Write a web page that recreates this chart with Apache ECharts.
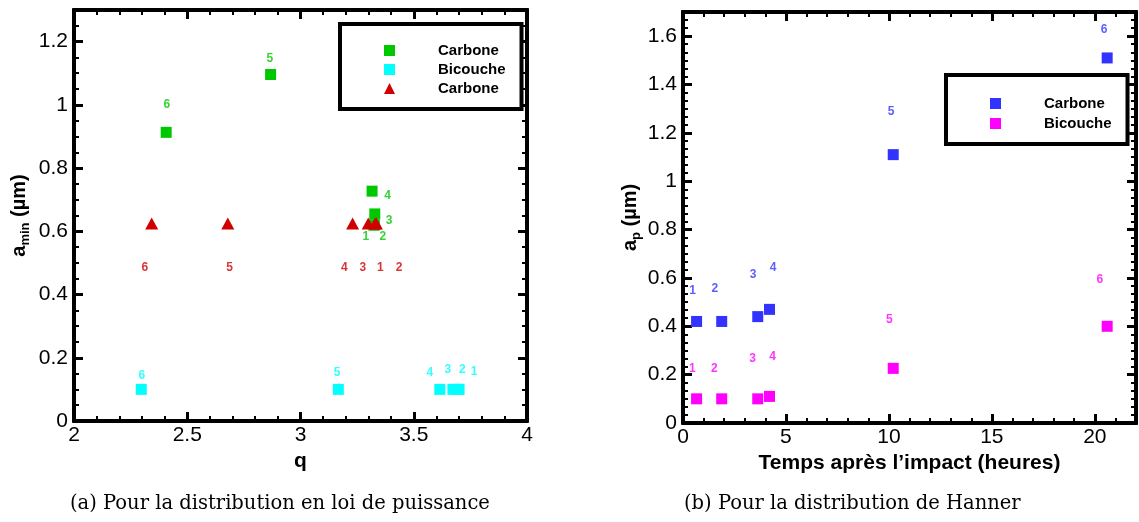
<!DOCTYPE html>
<html><head><meta charset="utf-8">
<script src="https://cdn.jsdelivr.net/npm/echarts@6/dist/echarts.min.js"></script>
<style>html,body{margin:0;padding:0;background:#fff}#c{width:1139px;height:522px}</style>
</head><body><div id="c"></div>
<script>
// ---------- (a) distribution en loi de puissance ----------
const pointIds = ['1', '2', '3', '4', '5', '6'];
const qCarbone = [3.325, 3.325, 3.328, 3.316, 2.868, 2.407];
const aminCarbone = [0.62, 0.62, 0.655, 0.727, 1.096, 0.913];
const qCarboneLbl = [3.289, 3.363, 3.391, 3.385, 2.865, 2.41];
const aminCarboneLbl = [0.583, 0.583, 0.633, 0.712, 1.145, 1.001];

const qBicouche = [3.70, 3.697, 3.673, 3.615, 3.167, 2.297];
const aminBicouche = [0.1, 0.1, 0.1, 0.1, 0.1, 0.1];
const qBicoucheLbl = [3.766, 3.714, 3.651, 3.571, 3.162, 2.30];
const aminBicoucheLbl = [0.155, 0.162, 0.162, 0.152, 0.152, 0.142];

const qCarbone2 = [3.329, 3.335, 3.299, 3.230, 2.679, 2.343];
const aminCarbone2 = [0.625, 0.625, 0.625, 0.625, 0.625, 0.625];
const qCarbone2Lbl = [3.353, 3.435, 3.275, 3.194, 2.687, 2.313];
const aminCarbone2Lbl = [0.485, 0.485, 0.485, 0.485, 0.485, 0.485];

// ---------- (b) distribution de Hanner ----------
const tHeures = [0.66, 1.88, 3.63, 4.2, 10.21, 20.6];
const apCarbone = [0.42, 0.42, 0.44, 0.47, 1.11, 1.51];
const tCarboneLbl = [0.47, 1.55, 3.4, 4.38, 10.1, 20.45];
const apCarboneLbl = [0.547, 0.557, 0.614, 0.644, 1.287, 1.625];
const apBicouche = [0.1, 0.1, 0.1, 0.11, 0.226, 0.40];
const tBicoucheLbl = [0.45, 1.52, 3.38, 4.35, 10.02, 20.24];
const apBicoucheLbl = [0.226, 0.226, 0.268, 0.276, 0.429, 0.594];

// tick labels
const xTicksA = [2, 2.5, 3, 3.5, 4];
const yTicksA = [0, 0.2, 0.4, 0.6, 0.8, 1, 1.2];
const xTicksB = [0, 5, 10, 15, 20];
const yTicksB = [0, 0.2, 0.4, 0.6, 0.8, 1, 1.2, 1.4, 1.6];

const captionA = '(a) Pour la distribution en loi de puissance';
const captionB = '(b) Pour la distribution de Hanner';

const C_GREEN = '#00c800', C_CYAN = '#00ffff', C_RED = '#d00000', C_BLUE = '#3333ff', C_MAG = '#ff00ff';
const SANS = '"Liberation Sans", Arial, Helvetica, sans-serif';

function zip(xs, ys) { return xs.map((x, i) => [x, ys[i]]); }
function zipLbl(xs, ys) { return xs.map((x, i) => [x, ys[i], pointIds[i]]); }

function axis(o) {
  const major = o.major;
  return {
    type: 'value', gridIndex: o.grid, position: o.position,
    min: o.min, max: o.max, interval: o.interval,
    axisLine: { show: true, onZero: false, lineStyle: { color: '#000', width: 4 } },
    axisTick: { show: true, inside: true, length: major ? 9 : 5, lineStyle: { color: '#000', width: major ? 3 : 2 } },
    axisLabel: o.labels ? {
      show: true, color: '#000', fontSize: 21, fontFamily: SANS, margin: o.margin,
      customValues: o.labels, showMaxLabel: true, showMinLabel: true
    } : { show: false },
    splitLine: { show: false },
    minorTick: { show: false },
    name: o.name || '', nameLocation: 'middle', nameGap: o.nameGap || 0,
    nameRotate: o.nameRotate, nameTextStyle: o.nameTextStyle || {},
    silent: true
  };
}

function axesFor(grid, dim, min, max, majorStep, minorStep, labels, name, nameGap, nameRotate, nameTextStyle) {
  const p1 = dim === 'x' ? 'bottom' : 'left';
  const p2 = dim === 'x' ? 'top' : 'right';
  const m = dim === 'x' ? 4 : 6;
  return [
    axis({ grid, position: p1, min, max, interval: majorStep, major: true, labels, margin: m, name, nameGap, nameRotate, nameTextStyle }),
    axis({ grid, position: p2, min, max, interval: majorStep, major: true }),
    axis({ grid, position: p1, min, max, interval: minorStep, major: false }),
    axis({ grid, position: p2, min, max, interval: minorStep, major: false })
  ];
}

const yNameRich = {
  b: { fontSize: 20, fontWeight: 'bold', fontFamily: SANS, color: '#000' },
  s: { fontSize: 13, fontWeight: 'bold', fontFamily: SANS, color: '#000', padding: [12, 0, 0, 0] }
};

const xAxes = [].concat(
  axesFor(0, 'x', 2, 4, 0.5, 0.1, xTicksA, 'q', 28, 0, { fontSize: 21, fontWeight: 'bold', fontFamily: SANS, color: '#000' }),
  axesFor(1, 'x', 0, 22, 5, 1, xTicksB, 'Temps après l\u2019impact (heures)', 29, 0, { fontSize: 21, fontWeight: 'bold', fontFamily: SANS, color: '#000' })
);
const yAxes = [].concat(
  axesFor(0, 'y', 0, 1.3, 0.2, 0.05, yTicksA, '{b|a}{s|min}{b| (µm)}', 42, 90, { rich: yNameRich }),
  axesFor(1, 'y', 0, 1.7, 0.2, 0.2 / 6, yTicksB, '{b|a}{s|p}{b| (µm)}', 40, 90, { rich: yNameRich })
);

function pts(name, xi, data, color, symbol, size) {
  return {
    name, type: 'scatter', xAxisIndex: xi, yAxisIndex: xi, data,
    symbol, symbolSize: size, itemStyle: { color, opacity: 1 }, silent: true
  };
}
function lbls(xi, data, color) {
  return {
    type: 'scatter', xAxisIndex: xi, yAxisIndex: xi, data, symbolSize: 0, silent: true, z: 5,
    itemStyle: { color },
    label: { show: true, position: 'inside', formatter: p => p.value[2], color, fontSize: 12, fontWeight: 'bold', fontFamily: SANS }
  };
}

const legendCommon = {
  orient: 'vertical', itemWidth: 11, itemHeight: 11, itemGap: 4,
  borderColor: '#000', borderWidth: 4, backgroundColor: '#fff',
  selectedMode: false, inactiveColor: '#000',
  formatter: n => '{t|' + n.replace(/\u200b/g, '') + '}',
  textStyle: { rich: { t: { fontSize: 15, fontWeight: 'bold', fontFamily: SANS, color: '#000', lineHeight: 15, padding: [0, 0, 0, 38] } } }
};

const option = {
  animation: false,
  backgroundColor: '#fff',
  grid: [
    { left: 74, top: 10, width: 453, height: 411 },
    { left: 683, top: 12, width: 453, height: 411 }
  ],
  xAxis: xAxes,
  yAxis: yAxes,
  legend: [
    Object.assign({}, legendCommon, { left: 340, top: 24, padding: [19, 16, 13, 44], data: [
      { name: 'Carbone', icon: 'rect' }, { name: 'Bicouche', icon: 'rect' }, { name: 'Carbone\u200b', icon: 'triangle' }] }),
    Object.assign({}, legendCommon, { left: 946, top: 75, itemGap: 5, padding: [21, 16, 13, 44], data: [
      { name: 'Carbone\u200b\u200b', icon: 'rect' }, { name: 'Bicouche\u200b', icon: 'rect' }] })
  ],
  series: [
    pts('Carbone', 0, zip(qCarbone, aminCarbone), C_GREEN, 'rect', 11),
    pts('Bicouche', 0, zip(qBicouche, aminBicouche), C_CYAN, 'rect', 11),
    pts('Carbone\u200b', 0, zip(qCarbone2, aminCarbone2), C_RED, 'triangle', [13, 12]),
    lbls(0, zipLbl(qCarboneLbl, aminCarboneLbl), C_GREEN),
    lbls(0, zipLbl(qBicoucheLbl, aminBicoucheLbl), C_CYAN),
    lbls(0, zipLbl(qCarbone2Lbl, aminCarbone2Lbl), C_RED),
    pts('Carbone\u200b\u200b', 4, zip(tHeures, apCarbone), C_BLUE, 'rect', 11),
    pts('Bicouche\u200b', 4, zip(tHeures, apBicouche), C_MAG, 'rect', 11),
    lbls(4, zipLbl(tCarboneLbl, apCarboneLbl), C_BLUE),
    lbls(4, zipLbl(tBicoucheLbl, apBicoucheLbl), C_MAG)
  ],
  graphic: [
    { type: 'text', left: 70, top: 494, style: { text: captionA, font: '19.5px "DejaVu Serif", "Liberation Serif", serif', fill: '#000' } },
    { type: 'text', left: 684, top: 494, style: { text: captionB, font: '19.5px "DejaVu Serif", "Liberation Serif", serif', fill: '#000' } }
  ]
};

const chart = echarts.init(document.getElementById('c'), null, { renderer: 'canvas' });
chart.setOption(option);
</script>
</body></html>
